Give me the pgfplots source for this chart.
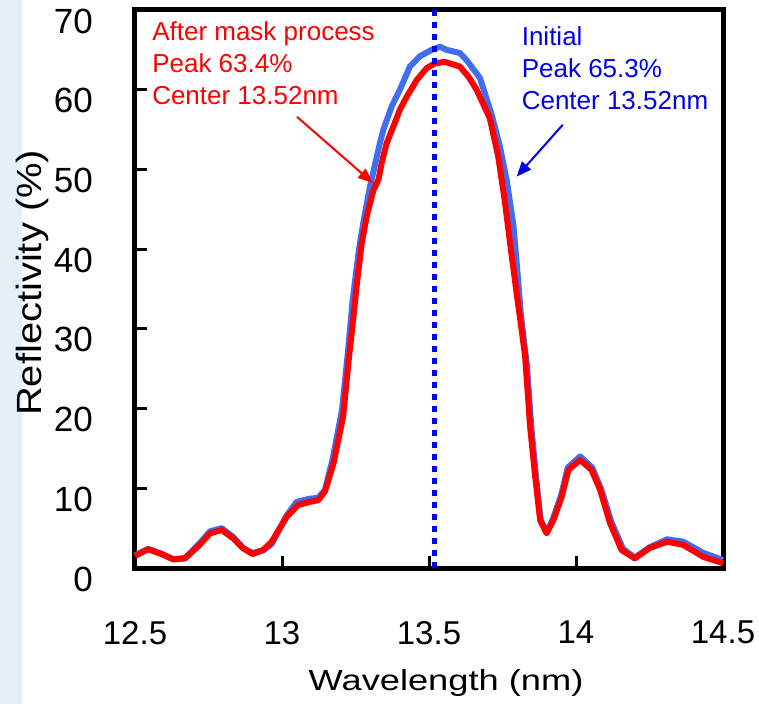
\documentclass[border=0pt]{standalone}
\usepackage{pgfplots}
\pgfplotsset{compat=1.18}
\usepackage{fontspec}
\setmainfont{Liberation Sans}
\usetikzlibrary{arrows.meta}
\definecolor{initblue}{RGB}{65,110,240}
\definecolor{txtblue}{RGB}{0,0,235}
\definecolor{txtred}{RGB}{255,0,0}
\definecolor{bgblue}{RGB}{230,238,248}
\begin{document}
\begin{tikzpicture}
\path[use as bounding box] (-135pt,-136pt) rectangle (624pt,568pt);
\fill[bgblue] (-135pt,-136pt) rectangle (-113pt,568pt);
\begin{axis}[
  scale only axis,
  width=588pt, height=558pt,
  xmin=12.5, xmax=14.5, ymin=0, ymax=70,
  xtick={12.5,13,13.5,14,14.5},
  ytick={0,10,20,30,40,50,60,70},
  tick align=inside,
  xtick pos=bottom, ytick pos=left,
  major tick length=12pt,
  tick style={line width=3pt, black},
  axis line style={line width=5pt, black},
  /pgf/number format/assume math mode=true,
  yticklabel style={font=\fontsize{35}{35}\selectfont, anchor=east, inner sep=0pt, xshift=-42pt, yshift=-11pt},
  xticklabel style={font=\fontsize{33}{33}\selectfont, anchor=north, inner sep=0pt, yshift=-53pt},
  xlabel={\scalebox{1.25}[1]{Wavelength (nm)}},
  ylabel={\scalebox{1.14}[1]{Reflectivity (\%)}},
  xlabel style={font=\fontsize{29}{29}\selectfont, at={(axis description cs:0.529,-0.206)}, anchor=center},
  ylabel style={font=\fontsize{35}{35}\selectfont, at={(axis description cs:-0.174,0.511)}, anchor=center},
  clip=false,
]
% Initial (blue)
\addplot[initblue, line width=6pt, line join=round] coordinates {
(12.50,1.6) (12.506,1.7) (12.545,2.4) (12.59,1.8) (12.63,1.1) (12.67,1.25)
(12.72,3.1) (12.755,4.6) (12.795,5.0) (12.834,3.9) (12.868,2.5) (12.90,1.9)
(12.936,2.2) (12.965,3.0) (13.016,6.6) (13.05,8.3) (13.095,8.7) (13.123,8.8)
(13.146,9.8) (13.172,13.6) (13.204,19.8) (13.224,27.0) (13.24,33.5) (13.262,40.0)
(13.276,43.2) (13.299,47.8) (13.333,53.3) (13.345,55.0) (13.373,57.9) (13.401,60.0)
(13.435,62.9) (13.469,64.2) (13.509,65.0) (13.537,65.4) (13.56,65.0) (13.583,64.8)
(13.605,64.6) (13.628,63.7) (13.673,61.5) (13.713,56.9) (13.741,52.9) (13.765,48.5)
(13.787,43.0) (13.80,37.5) (13.812,32.0) (13.822,28.8) (13.833,25.5) (13.848,17.7)
(13.864,11.5) (13.88,6.0) (13.90,4.4) (13.922,6.2) (13.95,9.2) (13.972,12.6)
(14.014,14.0) (14.055,12.6) (14.085,10.0) (14.12,5.8) (14.16,2.4) (14.20,1.3)
(14.25,2.6) (14.31,3.6) (14.365,3.3) (14.433,1.9) (14.5,1.0)
};
% After mask process (red)
\addplot[red, line width=6pt, line join=round] coordinates {
(12.50,1.5) (12.506,1.63) (12.545,2.35) (12.59,1.75) (12.63,1.09) (12.67,1.2)
(12.72,2.9) (12.755,4.35) (12.795,4.77) (12.834,3.72) (12.868,2.47) (12.90,1.75)
(12.936,2.26) (12.965,3.3) (13.016,6.44) (13.055,7.9) (13.095,8.3) (13.123,8.5)
(13.146,9.6) (13.175,13.1) (13.208,19.0) (13.228,26.5) (13.243,31.5) (13.256,36.1)
(13.271,40.7) (13.288,44.1) (13.311,47.4) (13.328,48.7) (13.339,50.8) (13.356,53.3)
(13.379,55.4) (13.401,57.5) (13.424,59.1) (13.458,61.2) (13.492,62.7) (13.52,63.3)
(13.554,63.5) (13.588,63.1) (13.605,62.9) (13.635,61.6) (13.662,60.0) (13.707,56.4)
(13.736,51.5) (13.759,45.7) (13.778,40.1) (13.798,34.5) (13.815,29.9) (13.827,26.5)
(13.844,17.7) (13.861,11.5) (13.878,6.0) (13.90,4.35) (13.923,6.0) (13.951,8.9)
(13.974,12.3) (14.014,13.55) (14.053,12.3) (14.082,9.8) (14.116,5.6) (14.155,2.26)
(14.20,1.2) (14.25,2.5) (14.31,3.3) (14.365,2.9) (14.433,1.4) (14.5,0.6)
};
% center line
\addplot[blue, line width=5pt, dash pattern=on 6pt off 6pt] coordinates {(13.52,0) (13.52,70)};
% annotations
\node[anchor=north west, align=left, inner sep=0pt, text=txtred,
      font=\fontsize{26}{32}\selectfont] at (axis cs:12.558,68.5)
      {After mask process\\Peak 63.4\%\\Center 13.52nm};
\node[anchor=north west, align=left, inner sep=0pt, text=txtblue,
      font=\fontsize{26}{32}\selectfont] at (axis cs:13.815,67.9)
      {Initial\\Peak 65.3\%\\Center 13.52nm};
\draw[txtred, line width=2pt, -{Triangle[length=15pt,width=12pt]}]
  (axis cs:13.051,56.6) -- (axis cs:13.309,48.3);
\draw[txtblue, line width=2pt, -{Triangle[length=15pt,width=12pt]}]
  (axis cs:13.955,55.6) -- (axis cs:13.798,49.1);
\end{axis}
\end{tikzpicture}
\end{document}
